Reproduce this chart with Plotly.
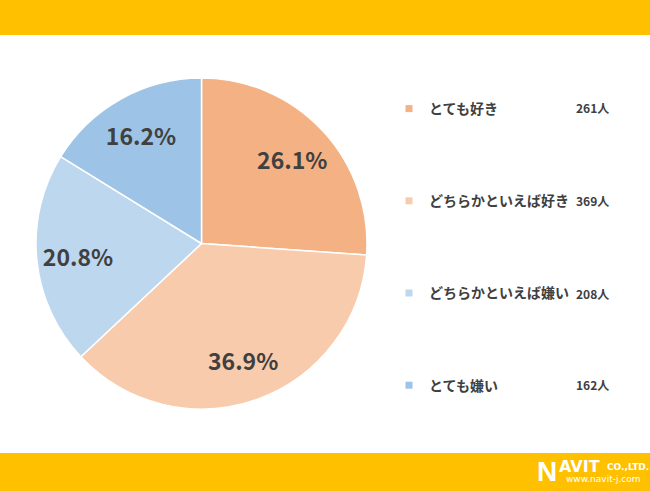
import plotly.graph_objects as go

categories = ["とても好き", "どちらかといえば好き", "どちらかといえば嫌い", "とても嫌い"]
counts = [261, 369, 208, 162]
colors = ["#F4B183", "#F8CBAD", "#BDD7EE", "#9DC3E6"]
count_labels = [f"{c}人" for c in counts]

W, H = 650, 491
FONT = "Noto Sans CJK JP"
TXT = "#404040"
PIE_DOMAIN = dict(x=[36 / W, 367 / W], y=[82 / H, 413 / H])

fig = go.Figure()
# filled pie (no text)
fig.add_trace(go.Pie(
    labels=categories, values=counts, sort=False, direction="clockwise", rotation=0,
    marker=dict(colors=colors, line=dict(color="white", width=1.5)),
    textinfo="none", domain=PIE_DOMAIN, showlegend=False,
    hoverinfo="label+value+percent",
))
# transparent ring carrying percentage labels further out
fig.add_trace(go.Pie(
    labels=categories, values=counts, sort=False, direction="clockwise", rotation=0,
    hole=0.5, marker=dict(colors=["rgba(0,0,0,0)"] * 4, line=dict(width=0)),
    texttemplate="%{percent:.1%}", textposition="inside", insidetextorientation="horizontal",
    textfont=dict(family=FONT, size=23, color=TXT, weight="bold"),
    domain=PIE_DOMAIN, showlegend=False, hoverinfo="skip",
))

# legend entries as separate groups for spacing
for i, (cat, col) in enumerate(zip(categories, colors)):
    fig.add_trace(go.Scatter(
        x=[None], y=[None], mode="markers", name=cat, legendgroup=f"g{i}",
        marker=dict(symbol="square", size=7, color=col), showlegend=True,
    ))

# count labels aligned with legend rows
leg_y = [107, 200, 293, 384]
for i, lab in enumerate(count_labels):
    fig.add_annotation(x=611 / W, y=1 - leg_y[i] / H, xref="paper", yref="paper",
                       text=lab, showarrow=False, xanchor="right", yanchor="middle",
                       font=dict(family=FONT, size=12, color=TXT, weight="bold"))

# yellow bands
fig.add_shape(type="rect", xref="paper", yref="paper", x0=0, x1=1, y0=1 - 35 / H, y1=1,
              fillcolor="#FFC000", line=dict(width=0), layer="below")
fig.add_shape(type="rect", xref="paper", yref="paper", x0=0, x1=1, y0=0, y1=(H - 453) / H,
              fillcolor="#FFC000", line=dict(width=0), layer="below")

# logo text
def logo(x, y, text, size, bold=True, family="DejaVu Sans"):
    fig.add_annotation(x=x / W, y=1 - y / H, xref="paper", yref="paper", text=text,
                       showarrow=False, xanchor="left", yanchor="middle",
                       font=dict(family=family, size=size, color="white",
                                 weight="bold" if bold else "normal"))

logo(535, 471, "N", 28, family="Liberation Sans")
logo(557, 466, "AVIT", 16)
logo(605, 467, "CO.,LTD.", 9)
logo(564, 479, "www.navit-j.com", 9, bold=False)

fig.update_layout(
    width=W, height=H, margin=dict(l=0, r=0, t=0, b=0),
    paper_bgcolor="white", plot_bgcolor="white",
    xaxis=dict(visible=False, domain=[0.99, 1]), yaxis=dict(visible=False, domain=[0.99, 1]),
    legend=dict(x=389 / W, y=1 - 93 / H, xanchor="left", yanchor="top",
                font=dict(family=FONT, size=14, color=TXT, weight="bold"),
                tracegroupgap=71, itemwidth=30, bgcolor="rgba(0,0,0,0)"),
    font=dict(family=FONT),
)

fig.write_html("out.html", config={"displayModeBar": False},
               post_script="document.body.style.margin='0';")
